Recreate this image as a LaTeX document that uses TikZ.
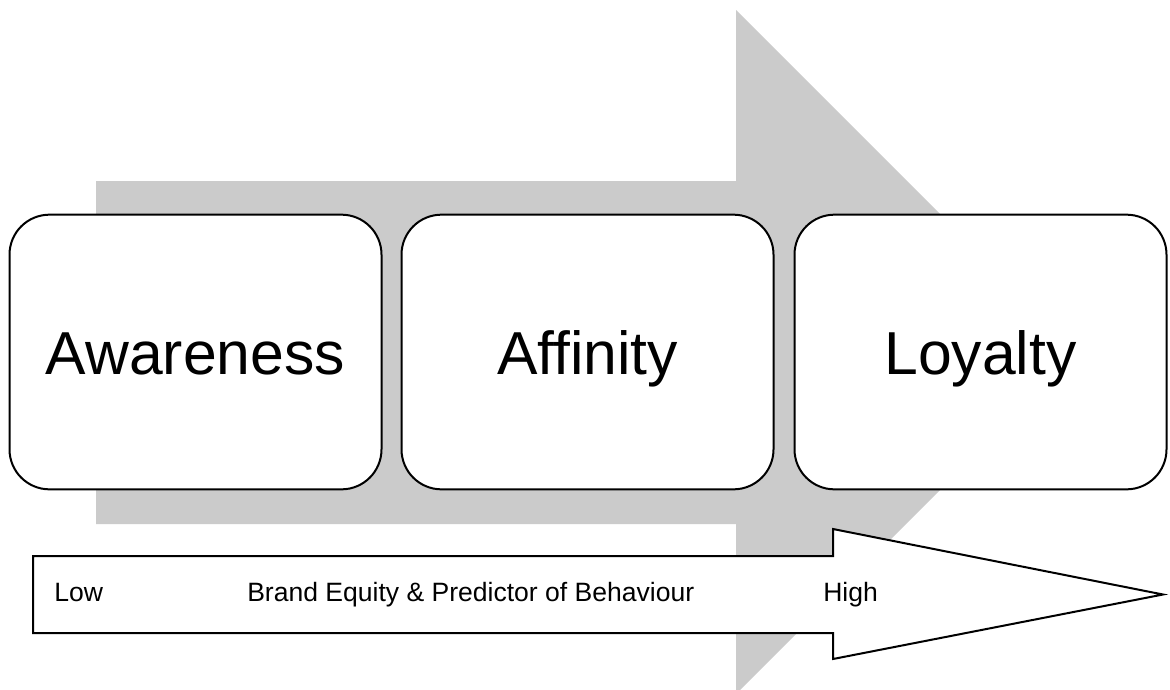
\documentclass[tikz,border=0pt]{standalone}
\usepackage{fontspec}
\setmainfont{Liberation Sans}
\usetikzlibrary{positioning}

\definecolor{arrowgray}{HTML}{CBCBCB}

\tikzset{
    stagebox/.style={draw=black, line width=1.5pt, fill=white, rounded corners=30pt,
        minimum width=279pt, minimum height=206pt, inner sep=0pt,
        font=\fontsize{45.5}{50}\selectfont, text height=34pt, text depth=0pt},
    scalelabel/.style={anchor=base west, inner sep=0pt, font=\fontsize{19.9}{22}\selectfont}
}

\begin{document}
\begin{tikzpicture}[x=0.75pt,y=-0.75pt]
    \useasboundingbox (0,0) rectangle (1170,689);
    \begin{scope}
    \clip (0,0) rectangle (1170,689);
    \fill[arrowgray] (96,181) -- (736,181) -- (736,10) -- (1078,352) -- (736,694)
        -- (736,524) -- (96,524) -- cycle;
    \end{scope}

    \foreach \name/\word/\cx in {awareness/Awareness/195.5, affinity/Affinity/587.5, loyalty/Loyalty/980.5}
	\node[stagebox] (\name) at (\cx,352) {\word};

    \draw[line width=1.5pt, fill=white] (33,556) -- (833,556) -- (833,529) -- (1163,594.5)
        -- (833,659) -- (833,633) -- (33,633) -- cycle;

    \node[scalelabel] (low) at (54,601) {Low};
    \node[scalelabel] (equity) at (247,601) {Brand Equity \& Predictor of Behaviour};
    \node[scalelabel] (high) at (823,601) {High};
\end{tikzpicture}
\end{document}
